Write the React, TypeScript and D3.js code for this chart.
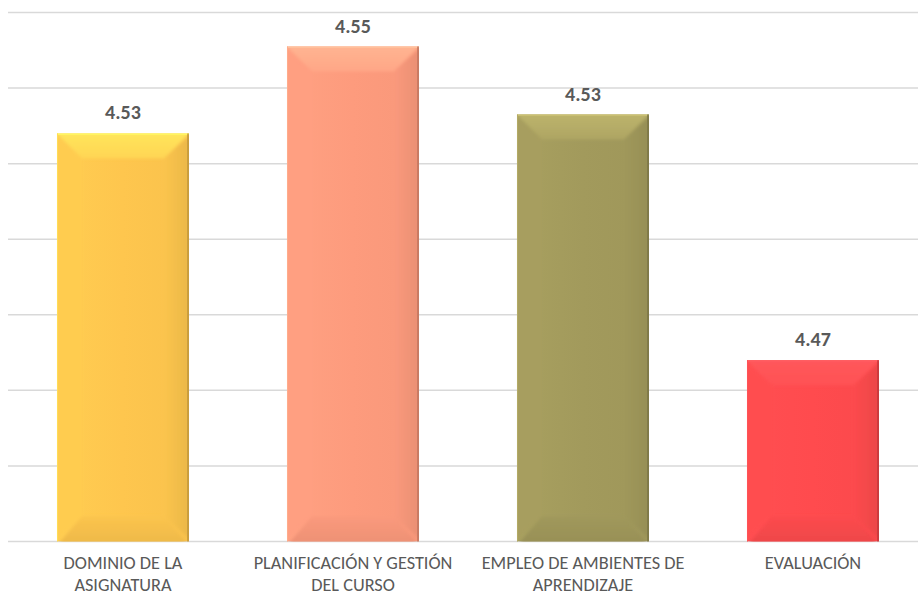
import React from "react";
import * as d3 from "d3";

const categories: string[][] = [
  ["DOMINIO DE LA", "ASIGNATURA"],
  ["PLANIFICACIÓN Y GESTIÓN", "DEL CURSO"],
  ["EMPLEO DE AMBIENTES DE", "APRENDIZAJE"],
  ["EVALUACIÓN"],
];
const values: number[] = [4.528, 4.551, 4.533, 4.468];
const valueLabels: string[] = ["4.53", "4.55", "4.53", "4.47"];
const colors: string[] = ["#FEC64E", "#FD9B7D", "#A29A5C", "#FF4B4E"];
const yMin = 4.42;
const yMax = 4.56;
const yStep = 0.02;

const W = 918;
const H = 596;
const FONT = "Calibri, Carlito, 'Liberation Sans', Arial, sans-serif";

export default function App() {
  const keys = categories.map((c) => c.join(" "));
  const x = d3.scaleBand<string>().domain(keys).range([8, 928]).paddingInner(0.426).paddingOuter(0.213);
  const y = d3.scaleLinear().domain([yMin, yMax]).range([541.5, 12.5]);
  const ticks = d3.range(yMin, yMax + yStep / 2, yStep);
  const bw = x.bandwidth();
  const b = 25;

  return (
    <svg
      width={W}
      height={H}
      style={{ position: "absolute", left: 0, top: 0, background: "#fff" }}
      xmlns="http://www.w3.org/2000/svg"
    >
      <defs>
        <filter id="soft" x="-10%" y="-10%" width="120%" height="120%">
          <feGaussianBlur stdDeviation="1.6" />
        </filter>
        {values.map((v, i) => {
          const x0 = x(keys[i])!;
          return (
            <clipPath id={`clip${i}`} key={`c${i}`}>
              <rect x={x0} y={y(v)} width={bw} height={y(yMin) - y(v)} />
            </clipPath>
          );
        })}
        {colors.map((c, i) => {
          const base = d3.color(c)!;
          return (
            <React.Fragment key={i}>
              <linearGradient id={`face${i}`} x1="0" x2="1" y1="0" y2="0">
                <stop offset="0" stopColor={base.brighter(0.1).formatHex()} />
                <stop offset="0.5" stopColor={base.formatHex()} />
                <stop offset="1" stopColor={base.darker(0.06).formatHex()} />
              </linearGradient>
              <linearGradient id={`top${i}`} x1="0" x2="0" y1="0" y2="1">
                <stop offset="0" stopColor={base.brighter(0.45).formatHex()} />
                <stop offset="1" stopColor={base.brighter(0.2).formatHex()} />
              </linearGradient>
              <linearGradient id={`right${i}`} x1="0" x2="1" y1="0" y2="0">
                <stop offset="0" stopColor={base.darker(0.03).formatHex()} />
                <stop offset="1" stopColor={base.darker(0.25).formatHex()} />
              </linearGradient>
              <linearGradient id={`bot${i}`} x1="0" x2="0" y1="0" y2="1">
                <stop offset="0" stopColor={base.darker(0.03).formatHex()} />
                <stop offset="1" stopColor={base.darker(0.2).formatHex()} />
              </linearGradient>
            </React.Fragment>
          );
        })}
      </defs>
      {ticks.map((t, i) => (
        <line key={i} x1={8} x2={W} y1={y(t)} y2={y(t)} stroke="#D9D9D9" strokeWidth={1.5} />
      ))}
      {values.map((v, i) => {
        const x0 = x(keys[i])!;
        const x1 = x0 + bw;
        const y0 = y(v);
        const y1 = y(yMin);
        const base = d3.color(colors[i])!;
        const pts = (a: number[][]) => a.map((p) => p.join(",")).join(" ");
        return (
          <g key={i}>
            <g clipPath={`url(#clip${i})`}>
              <rect x={x0} y={y0} width={bw} height={y1 - y0} fill={`url(#face${i})`} />
              <g filter="url(#soft)">
                <polygon points={pts([[x0 - 4, y0 - 4], [x1 + 4, y0 - 4], [x1 - b, y0 + b], [x0 + b, y0 + b]])} fill={`url(#top${i})`} />
                <polygon points={pts([[x0 - 4, y0], [x0 + b, y0 + b], [x0 + b, y1 - b], [x0 - 4, y1]])} fill={base.brighter(0.08).formatHex()} />
                <polygon points={pts([[x1 + 4, y0], [x1 - b, y0 + b], [x1 - b, y1 - b], [x1 + 4, y1]])} fill={`url(#right${i})`} />
                <polygon points={pts([[x0, y1 + 4], [x0 + b, y1 - b], [x1 - b, y1 - b], [x1, y1 + 4]])} fill={`url(#bot${i})`} />
              </g>
            </g>
            <line x1={x0} x2={x1} y1={y0 + 0.75} y2={y0 + 0.75} stroke={base.brighter(0.6).formatHex()} strokeWidth={1.5} />
            <line x1={x1 - 1} x2={x1 - 1} y1={y0} y2={y1} stroke={base.darker(0.8).formatHex()} strokeWidth={1.5} />
            <line x1={x0 + 0.5} x2={x0 + 0.5} y1={y0} y2={y1} stroke={base.brighter(0.3).formatHex()} strokeWidth={1} />
            <text
              x={x0 + bw / 2}
              y={y0 - 14}
              textAnchor="middle"
              fontFamily={FONT}
              fontWeight="bold"
              fontSize={20}
              fill="#595959"
            >
              {valueLabels[i]}
            </text>
          </g>
        );
      })}
      {categories.map((lines, i) => (
        <text
          key={i}
          x={x(keys[i])! + bw / 2}
          textAnchor="middle"
          fontFamily={FONT}
          fontSize={18.3}
          fill="#595959"
        >
          {lines.map((l, j) => (
            <tspan key={j} x={x(keys[i])! + bw / 2} y={569 + j * 22}>
              {l}
            </tspan>
          ))}
        </text>
      ))}
    </svg>
  );
}
